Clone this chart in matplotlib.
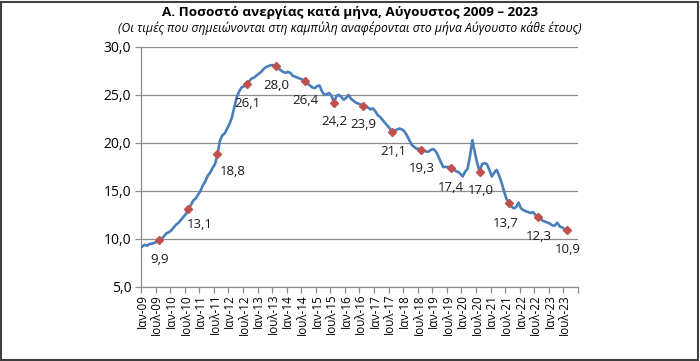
import numpy as np
import matplotlib
matplotlib.use("Agg")
import matplotlib.pyplot as plt
from matplotlib.patches import Rectangle

plt.rcParams['font.family'] = ['Open Sans', 'DejaVu Sans']

# monthly unemployment rate (%), Jan 2009 - Aug 2023
y2009 = [9.2, 9.4, 9.3, 9.5, 9.5, 9.6, 9.7, 9.9, 10.0, 10.3, 10.6, 10.7]
y2010 = [10.9, 11.2, 11.5, 11.7, 12.0, 12.3, 12.6, 13.1, 13.5, 14.0, 14.2, 14.6]
y2011 = [15.0, 15.6, 16.0, 16.6, 16.9, 17.4, 17.8, 18.8, 20.2, 20.8, 21.0, 21.5]
y2012 = [22.0, 22.7, 23.8, 24.8, 25.4, 25.8, 25.9, 26.1, 26.4, 26.7, 26.8, 27.0]
y2013 = [27.2, 27.4, 27.7, 27.9, 28.0, 28.1, 28.1, 28.0, 27.8, 27.6, 27.4, 27.3]
y2014 = [27.4, 27.3, 27.0, 26.9, 26.8, 26.7, 26.6, 26.4, 26.2, 26.0, 25.8, 25.7]
y2015 = [25.9, 26.0, 25.4, 25.0, 25.1, 25.2, 24.9, 24.2, 24.9, 25.0, 24.8, 24.5]
y2016 = [24.7, 25.0, 24.6, 24.4, 24.2, 24.1, 24.0, 23.9, 23.8, 23.7, 23.5, 23.6]
y2017 = [23.3, 22.9, 22.7, 22.4, 22.1, 21.8, 21.5, 21.1, 21.3, 21.4, 21.5, 21.4]
y2018 = [21.2, 20.8, 20.3, 19.8, 19.6, 19.4, 19.4, 19.3, 19.2, 19.1, 19.1, 19.3]
y2019 = [19.35, 19.1, 18.6, 18.0, 17.5, 17.5, 17.5, 17.4, 17.3, 17.1, 17.0, 16.8]
y2020 = [16.5, 17.0, 17.3, 18.6, 20.3, 19.0, 17.9, 17.0, 17.8, 17.9, 17.8, 17.2]
y2021 = [16.5, 16.9, 17.2, 16.6, 15.9, 15.0, 14.2, 13.7, 13.4, 13.2, 13.3, 13.8]
y2022 = [13.2, 13.0, 12.9, 12.8, 12.7, 12.8, 12.5, 12.3, 12.1, 11.9, 11.8, 11.7]
y2023 = [11.6, 11.4, 11.4, 11.7, 11.3, 11.2, 11.0, 10.9]

rate = np.array(y2009 + y2010 + y2011 + y2012 + y2013 + y2014 + y2015 + y2016
                + y2017 + y2018 + y2019 + y2020 + y2021 + y2022 + y2023)
years = list(range(2009, 2024))
aug_labels = ['9,9', '13,1', '18,8', '26,1', '28,0', '26,4', '24,2', '23,9',
              '21,1', '19,3', '17,4', '17,0', '13,7', '12,3', '10,9']
tick_labels = []
for yr in years:
    tick_labels.append('Ιαν-%02d' % (yr % 100))
    tick_labels.append('Ιουλ-%02d' % (yr % 100))

idx = np.arange(len(rate))
aug_idx = np.array([12 * (yr - 2009) + 7 for yr in years])

fig = plt.figure(figsize=(7, 3.61), dpi=100)
ax = fig.add_axes([0.2014, 0.205, 0.6243, 0.665])

grid_col = '#8c8c8c'
ax.plot(idx, rate, color='#4a7ebb', lw=1.9, zorder=3, solid_joinstyle='round')
ax.plot(idx[aug_idx], rate[aug_idx], ls='none', marker='D', ms=4.0,
        color='#c0504d', zorder=4)

# label offsets in points (most below marker)
offsets = {1: (8, -11), 2: (11, -12.5), 12: (-2, -14.5)}
for k, (i, lab) in enumerate(zip(aug_idx, aug_labels)):
    dx, dy = offsets.get(k, (0.5, -13.8))
    ax.annotate(lab, (i, rate[i]), xytext=(dx, dy), textcoords='offset points',
                ha='center', va='center', fontsize=9.5, color='#1a1a1a')

ax.set_ylim(5, 30)
ax.set_yticks(np.arange(5, 31, 5))
ax.set_yticklabels([('%.1f' % v).replace('.', ',') for v in np.arange(5, 31, 5)])
ax.yaxis.grid(True, color=grid_col, lw=0.9)
ax.set_axisbelow(True)

ax.set_xlim(-0.5, len(rate) - 0.5)
ax.set_xticks(np.arange(0, len(tick_labels) * 6, 6))
ax.set_xticklabels(tick_labels, rotation=90, fontsize=8.4)
ax.set_xticks(np.arange(0, len(tick_labels) * 6 + 1, 6) - 0.5, minor=True)
ax.tick_params(axis='x', which='major', length=0, pad=5)
ax.tick_params(axis='x', which='minor', length=4, color=grid_col, width=0.9)
ax.tick_params(axis='y', length=4, color=grid_col, width=0.9, labelsize=10, pad=3)

for s in ['top', 'right']:
    ax.spines[s].set_visible(False)
for s in ['left', 'bottom']:
    ax.spines[s].set_color(grid_col)
    ax.spines[s].set_linewidth(0.9)

fig.text(0.5, 0.966, 'Α. Ποσοστό ανεργίας κατά μήνα, Αύγουστος 2009 – 2023',
         ha='center', va='center', fontsize=9.7, fontweight='bold')
fig.text(0.5, 0.922, '(Οι τιμές που σημειώνονται στη καμπύλη αναφέρονται στο μήνα Αύγουστο κάθε έτους)',
         ha='center', va='center', fontsize=8.7, style='italic')

fig.patches.append(Rectangle((0.002, 0.004), 0.995, 0.99, transform=fig.transFigure,
                             fill=False, edgecolor='#404040', lw=1.5))

fig.savefig('out.png', dpi=100)
